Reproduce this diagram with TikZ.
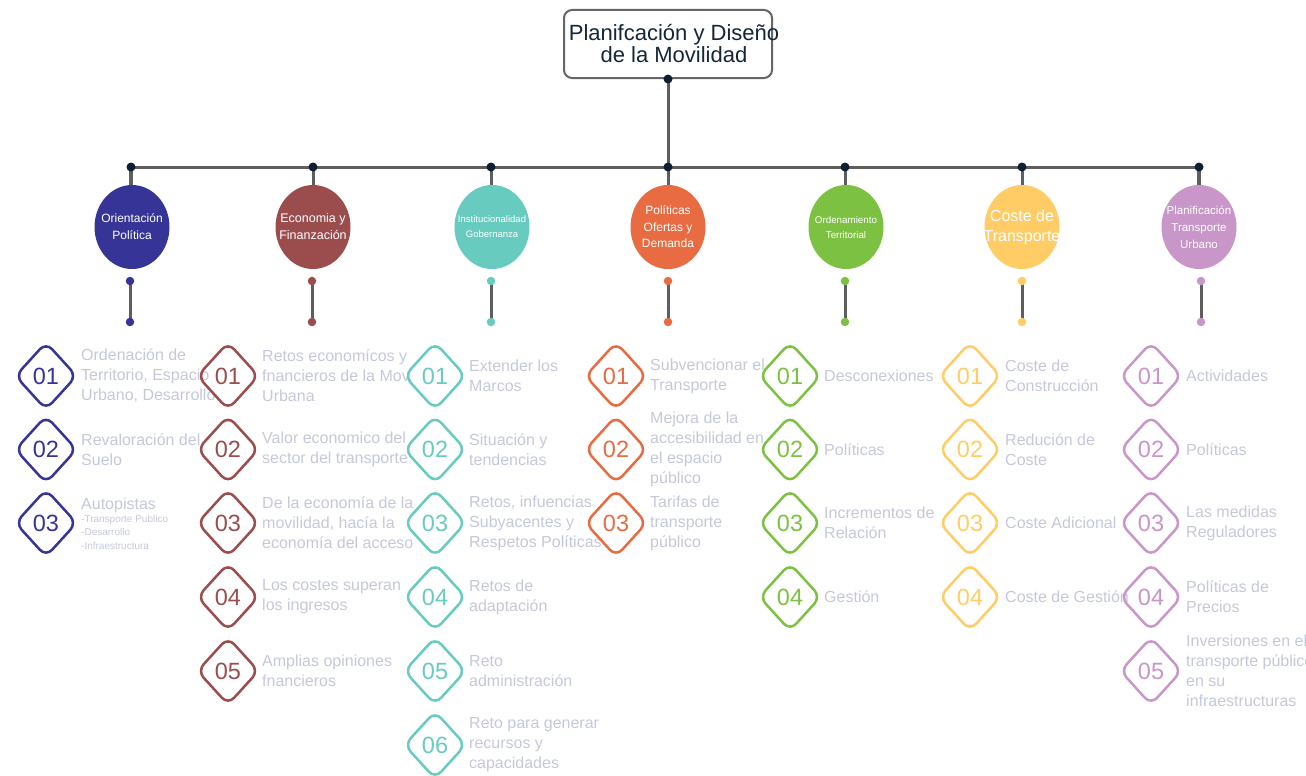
\documentclass[tikz,border=0pt]{standalone}
\usepackage{fontspec}
\setmainfont{Liberation Sans}
\usetikzlibrary{shapes.geometric, backgrounds}

\definecolor{linegray}{HTML}{5E5E5E}
\definecolor{dotnavy}{HTML}{0F1E30}
\definecolor{titlenavy}{HTML}{15253A}
\definecolor{itemgray}{HTML}{C5C8DA}
\definecolor{orientc}{HTML}{363597}
\definecolor{econc}{HTML}{9B4D4D}
\definecolor{instc}{HTML}{67CBBF}
\definecolor{politc}{HTML}{E86B41}
\definecolor{ordenc}{HTML}{7DC142}
\definecolor{costec}{HTML}{FFCC66}
\definecolor{planifc}{HTML}{C896C8}

\begin{document}
\begin{tikzpicture}[x=1pt, y=-1pt,
        connector/.style={draw=linegray, line width=3pt},
        joint/.style={circle, fill=dotnavy, minimum size=9pt, inner sep=0pt},
        pin/.style={circle, fill=#1, minimum size=8.5pt, inner sep=0pt},
        area/.style={ellipse, fill=#1, minimum width=75pt, minimum height=84pt, inner sep=0pt},
        areatext/.style={text=white, align=center, inner sep=0pt},
        num/.style={diamond, draw=#1, text=#1, line width=2.5pt, rounded corners=9pt,
            minimum width=62pt, minimum height=68pt, inner sep=0pt,
            font=\fontsize{23.5}{23.5}\selectfont},
        item/.style={anchor=west, align=left, text=itemgray, inner sep=0pt,
            font=\fontsize{16}{20}\selectfont}]
        \pgfmathsetmacro{\rowA}{376}
        \pgfmathsetmacro{\rowB}{449.5}
        \pgfmathsetmacro{\rowC}{523}
        \pgfmathsetmacro{\rowD}{597}
        \pgfmathsetmacro{\rowE}{671}
        \pgfmathsetmacro{\rowF}{745}

        \useasboundingbox (0,0) rectangle (1306,776);

        \node[draw=linegray!95, line width=2pt, rounded corners=8pt,
            minimum width=208pt, minimum height=68pt] (title) at (668,44) {};
        \node[text=titlenavy, align=center, inner sep=0pt,
            font=\fontsize{22}{22}\selectfont] (titletext) at (674,44)
            {Planifcación y Diseño\\de la Movilidad};

        \node[joint] (hub) at (title.south) {};
        \node[joint] (t1) at (131,167) {};
        \node[joint] (t2) at (313,167) {};
        \node[joint] (t3) at (491,167) {};
        \node[joint] (t4) at (668,167) {};
        \node[joint] (t5) at (845,167) {};
        \node[joint] (t6) at (1022,167) {};
        \node[joint] (t7) at (1199,167) {};

        \node[area=orientc, label={[areatext, font=\fontsize{12}{17}\selectfont]center:Orientación\\Política}]
            (orient) at (132,227) {};
        \node[area=econc, label={[areatext, font=\fontsize{12.5}{17}\selectfont]center:Economia y\\Finanzación}]
            (econ) at (313,227) {};
        \node[area=instc, label={[areatext, font=\fontsize{9.5}{15}\selectfont]center:Institucionalidad\\Gobernanza}]
            (inst) at (492,227) {};
        \node[area=politc, label={[areatext, font=\fontsize{12}{16.5}\selectfont]center:Políticas\\Ofertas y\\Demanda}]
            (polit) at (668,227) {};
        \node[area=ordenc, label={[areatext, font=\fontsize{9.8}{15}\selectfont]center:Ordenamiento\\Territorial}]
            (orden) at (846,227) {};
        \node[area=costec, label={[areatext, font=\fontsize{16}{20}\selectfont]center:Coste de\\Transporte}]
            (coste) at (1022,227) {};
        \node[area=planifc, label={[areatext, font=\fontsize{11.5}{17}\selectfont]center:Planificación\\Transporte\\Urbano}]
            (planif) at (1199,227) {};

        \node[pin=orientc] (orientP) at (130,281) {};
        \node[pin=orientc] (orientQ) at (130,322) {};
        \node[pin=econc] (econP) at (312,281) {};
        \node[pin=econc] (econQ) at (312,322) {};
        \node[pin=instc] (instP) at (491,281) {};
        \node[pin=instc] (instQ) at (491,322) {};
        \node[pin=politc] (politP) at (668,281) {};
        \node[pin=politc] (politQ) at (668,322) {};
        \node[pin=ordenc] (ordenP) at (845,281) {};
        \node[pin=ordenc] (ordenQ) at (845,322) {};
        \node[pin=costec] (costeP) at (1022,281) {};
        \node[pin=costec] (costeQ) at (1022,322) {};
        \node[pin=planifc] (planifP) at (1201,281) {};
        \node[pin=planifc] (planifQ) at (1201,322) {};

        \begin{scope}[on background layer]
            \draw[connector] (hub.center) -- (t4.center);
            \draw[connector] (t1.center) -- (t7.center);
            \draw[connector, line width=4.5pt] (t1.center) -- (t1 |- orient.north);
            \draw[connector] (t2.center) -- (econ.north);
            \draw[connector] (t3.center) -- (t3 |- inst.north);
            \draw[connector] (t4.center) -- (polit.north);
            \draw[connector] (t5.center) -- (t5 |- orden.north);
            \draw[connector] (t6.center) -- (coste.north);
            \draw[connector, line width=4pt] (t7.center) -- (planif.north);
            \draw[connector] (orientP.center) -- (orientQ.center);
            \draw[connector] (econP.center) -- (econQ.center);
            \draw[connector] (instP.center) -- (instQ.center);
            \draw[connector] (politP.center) -- (politQ.center);
            \draw[connector] (ordenP.center) -- (ordenQ.center);
            \draw[connector] (costeP.center) -- (costeQ.center);
            \draw[connector] (planifP.center) -- (planifQ.center);
        \end{scope}

        \node[num=orientc] (orient1) at (46,\rowA) {01};
        \node[num=orientc] (orient2) at (46,\rowB) {02};
        \node[num=orientc] (orient3) at (46,\rowC) {03};
        \node[item] (orient1txt) at (81,\rowA) {Ordenación de\\Territorio, Espacio\\Urbano, Desarrollo};
        \node[item] (orient2txt) at (81,\rowB) {Revaloración del\\Suelo};
        \node[item] (orient3txt) at (81,505) {Autopistas};
        \node[item, font=\fontsize{10}{13.5}\selectfont] (orient3sub) at (81,532)
            {-Transporte Publico\\-Desarrollo\\-Infraestructura};

        \node[num=econc] (econ1) at (228,\rowA) {01};
        \node[num=econc] (econ2) at (228,\rowB) {02};
        \node[num=econc] (econ3) at (228,\rowC) {03};
        \node[num=econc] (econ4) at (228,\rowD) {04};
        \node[num=econc] (econ5) at (228,\rowE) {05};
        \node[item] (econ1txt) at (262,\rowA) {Retos economícos y\\fnancieros de la Mov.\\Urbana};
        \node[item] (econ2txt) at (262,\rowB) {Valor economico del\\sector del transporte};
        \node[item] (econ3txt) at (262,\rowC) {De la economía de la\\movilidad, hacía la\\economía del acceso};
        \node[item] (econ4txt) at (262,\rowD) {Los costes superan\\los ingresos};
        \node[item] (econ5txt) at (262,\rowE) {Amplias opiniones\\fnancieros};

        \node[num=instc] (inst1) at (435,\rowA) {01};
        \node[num=instc] (inst2) at (435,\rowB) {02};
        \node[num=instc] (inst3) at (435,\rowC) {03};
        \node[num=instc] (inst4) at (435,\rowD) {04};
        \node[num=instc] (inst5) at (435,\rowE) {05};
        \node[num=instc] (inst6) at (435,\rowF) {06};
        \node[item] (inst1txt) at (469,\rowA) {Extender los\\Marcos};
        \node[item] (inst2txt) at (469,\rowB) {Situación y\\tendencias};
        \node[item] (inst3txt) at (469,\rowC) {Retos, infuencias\\Subyacentes y\\Respetos Políticas};
        \node[item] (inst4txt) at (469,\rowD) {Retos de\\adaptación};
        \node[item] (inst5txt) at (469,\rowE) {Reto\\administración};
        \node[item] (inst6txt) at (469,\rowF) {Reto para generar\\recursos y\\capacidades};

        \node[num=politc] (polit1) at (616,\rowA) {01};
        \node[num=politc] (polit2) at (616,\rowB) {02};
        \node[num=politc] (polit3) at (616,\rowC) {03};
        \node[item] (polit1txt) at (650,\rowA) {Subvencionar el\\Transporte};
        \node[item] (polit2txt) at (650,\rowB) {Mejora de la\\accesibilidad en\\el espacio\\público};
        \node[item] (polit3txt) at (650,\rowC) {Tarifas de\\transporte\\público};

        \node[num=ordenc] (orden1) at (790,\rowA) {01};
        \node[num=ordenc] (orden2) at (790,\rowB) {02};
        \node[num=ordenc] (orden3) at (790,\rowC) {03};
        \node[num=ordenc] (orden4) at (790,\rowD) {04};
        \node[item] (orden1txt) at (824,\rowA) {Desconexiones};
        \node[item] (orden2txt) at (824,\rowB) {Políticas};
        \node[item] (orden3txt) at (824,\rowC) {Incrementos de\\Relación};
        \node[item] (orden4txt) at (824,\rowD) {Gestión};

        \node[num=costec] (coste1) at (970,\rowA) {01};
        \node[num=costec] (coste2) at (970,\rowB) {02};
        \node[num=costec] (coste3) at (970,\rowC) {03};
        \node[num=costec] (coste4) at (970,\rowD) {04};
        \node[item] (coste1txt) at (1005,\rowA) {Coste de\\Construcción};
        \node[item] (coste2txt) at (1005,\rowB) {Redución de\\Coste};
        \node[item] (coste3txt) at (1005,\rowC) {Coste Adicional};
        \node[item] (coste4txt) at (1005,\rowD) {Coste de Gestión};

        \node[num=planifc] (planif1) at (1151,\rowA) {01};
        \node[num=planifc] (planif2) at (1151,\rowB) {02};
        \node[num=planifc] (planif3) at (1151,\rowC) {03};
        \node[num=planifc] (planif4) at (1151,\rowD) {04};
        \node[num=planifc] (planif5) at (1151,\rowE) {05};
        \node[item] (planif1txt) at (1186,\rowA) {Actividades};
        \node[item] (planif2txt) at (1186,\rowB) {Políticas};
        \node[item] (planif3txt) at (1186,\rowC) {Las medidas\\Reguladores};
        \node[item] (planif4txt) at (1186,\rowD) {Políticas de\\Precios};
        \node[item] (planif5txt) at (1186,\rowE) {Inversiones en el\\transporte público\\en su\\infraestructuras};
    \end{tikzpicture}
\end{document}
